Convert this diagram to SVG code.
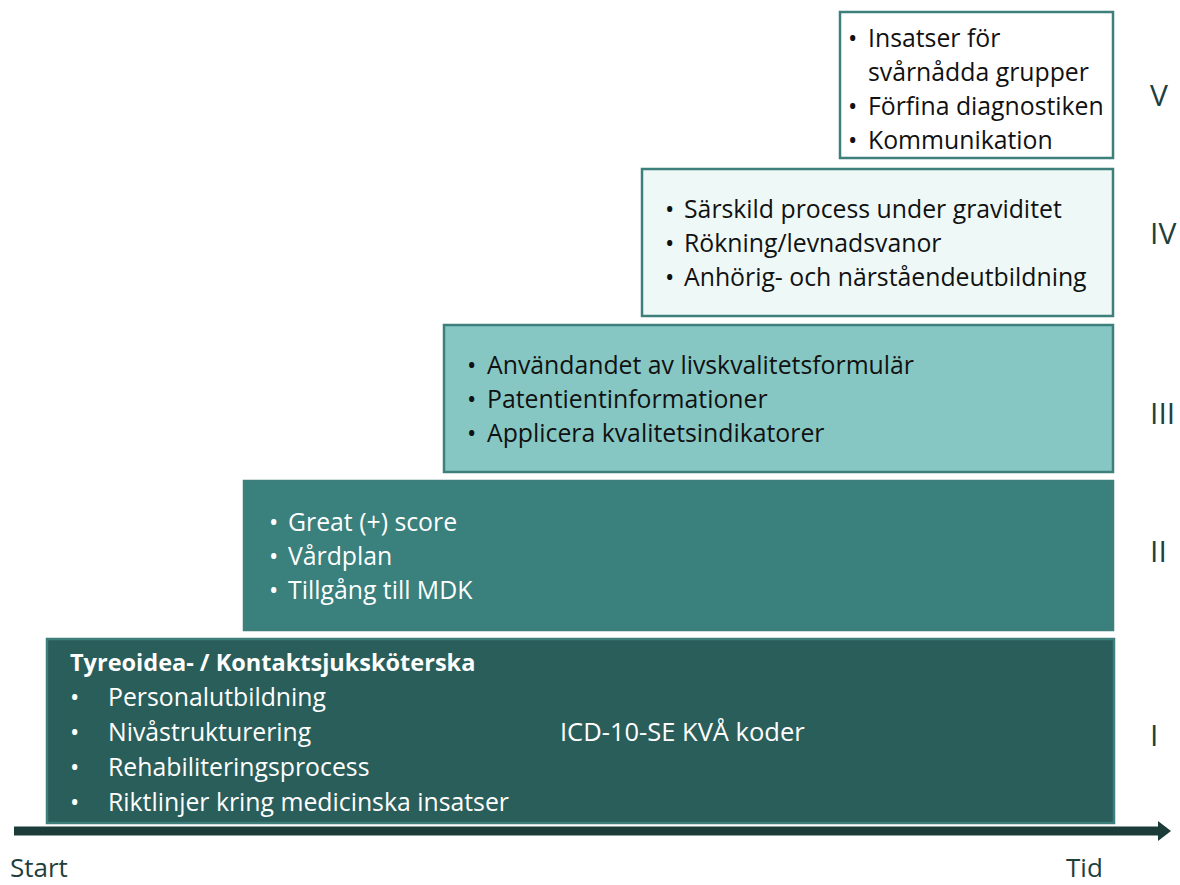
<svg xmlns="http://www.w3.org/2000/svg" width="1180" height="885" viewBox="0 0 1180 885">
<style>
text{font-family:"Open Sans",Lato,"DejaVu Sans",sans-serif;font-size:24.8px}
.dk{fill:#111}
.wt{fill:#fff}
.num{font-size:30px;fill:#1f3f3d}
.ax{font-size:26px;fill:#1f3f3d}
.box{stroke-width:2.5}
</style>
<rect width="1180" height="885" fill="#fff"/>
<g id="connectors">
<line x1="14" y1="831" x2="1160" y2="831" stroke="#1c3c3a" stroke-width="9"/>
<polygon points="1158,821 1171,831 1158,841" fill="#1c3c3a"/>
</g>
<g id="level5">
<rect class="box" x="840" y="12" width="273" height="146" fill="#fff" stroke="#3d7f7b"/>
<text class="dk"><tspan x="848" y="47">•</tspan><tspan x="868" y="47">Insatser för</tspan><tspan x="868" y="81">svårnådda grupper</tspan><tspan x="848" y="115">•</tspan><tspan x="868" y="115">Förfina diagnostiken</tspan><tspan x="848" y="149">•</tspan><tspan x="868" y="149">Kommunikation</tspan></text>
</g>
<g id="level4">
<rect class="box" x="642" y="169" width="471" height="147" fill="#eef8f7" stroke="#3d7f7b"/>
<text class="dk"><tspan x="665" y="218">•</tspan><tspan x="684" y="218">Särskild process under graviditet</tspan><tspan x="665" y="252">•</tspan><tspan x="684" y="252">Rökning/levnadsvanor</tspan><tspan x="665" y="286">•</tspan><tspan x="684" y="286">Anhörig- och närståendeutbildning</tspan></text>
</g>
<g id="level3">
<rect class="box" x="444" y="325" width="669" height="147" fill="#86c7c4" stroke="#3d7f7b"/>
<text class="dk"><tspan x="467" y="374">•</tspan><tspan x="487" y="374">Användandet av livskvalitetsformulär</tspan><tspan x="467" y="408">•</tspan><tspan x="487" y="408">Patentientinformationer</tspan><tspan x="467" y="442">•</tspan><tspan x="487" y="442">Applicera kvalitetsindikatorer</tspan></text>
</g>
<g id="level2">
<rect class="box" x="244" y="481" width="869" height="149" fill="#3a807c" stroke="#3d7f7b"/>
<text class="wt"><tspan x="269" y="531">•</tspan><tspan x="288" y="531">Great (+) score</tspan><tspan x="269" y="565">•</tspan><tspan x="288" y="565">Vårdplan</tspan><tspan x="269" y="599">•</tspan><tspan x="288" y="599">Tillgång till MDK</tspan></text>
</g>
<g id="level1">
<rect class="box" x="47" y="639" width="1067" height="184" fill="#2a5e5b" stroke="#3d7f7b"/>
<text class="wt" x="70" y="671" font-weight="bold" style="font-size:23.5px">Tyreoidea- / Kontaktsjuksköterska</text>
<text class="wt"><tspan x="70" y="706">•</tspan><tspan x="70" y="741">•</tspan><tspan x="70" y="776">•</tspan><tspan x="70" y="811">•</tspan></text>
<text class="wt"><tspan x="108" y="706">Personalutbildning</tspan><tspan x="108" y="741">Nivåstrukturering</tspan><tspan x="108" y="776">Rehabiliteringsprocess</tspan><tspan x="108" y="811">Riktlinjer kring medicinska insatser</tspan></text>
<text class="wt" x="560" y="741" style="font-size:25.5px">ICD-10-SE KVÅ koder</text>
</g>
<g id="labels">
<text class="num" x="1150" y="106">V</text>
<text class="num" x="1150" y="244">IV</text>
<text class="num" x="1150" y="424">III</text>
<text class="num" x="1150" y="562">II</text>
<text class="num" x="1150" y="746">I</text>
<text class="ax" x="10" y="877">Start</text>
<text class="ax" x="1066" y="877">Tid</text>
</g>
</svg>
